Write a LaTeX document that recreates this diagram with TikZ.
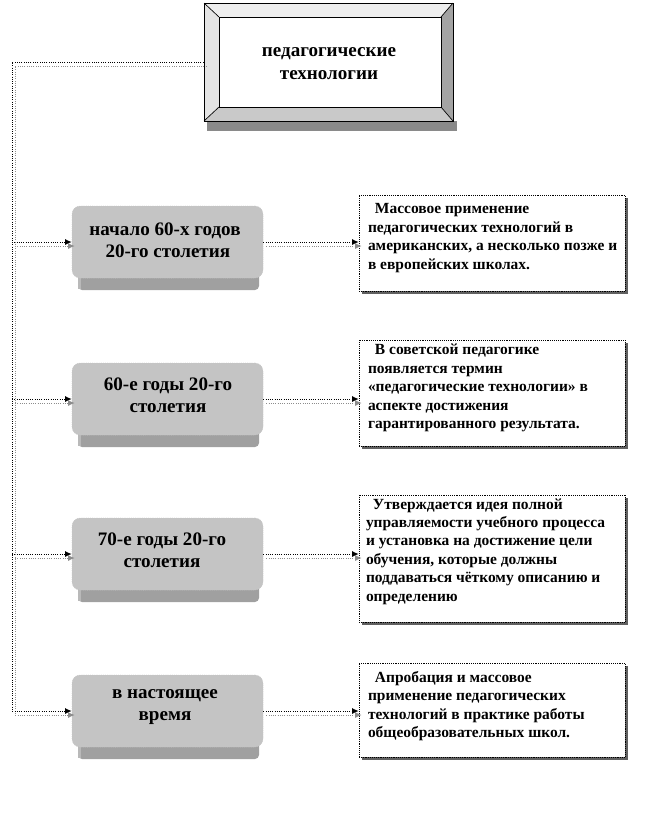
\documentclass[tikz,border=0pt]{standalone}
\usepackage{fontspec}
\setmainfont{Liberation Serif}
\usetikzlibrary{arrows.meta,shadows,calc}
\definecolor{facegray}{HTML}{C4C4C4}
\definecolor{basegray}{HTML}{A0A0A0}
\definecolor{lnshadow}{HTML}{8C8C8C}
\definecolor{bevlight}{HTML}{EEEEEE}
\definecolor{bevleft}{HTML}{E4E4E4}
\definecolor{bevright}{HTML}{A3A3A3}
\definecolor{bevbottom}{HTML}{C9C9C9}
\definecolor{topshadow}{HTML}{8A8A8A}
\begin{document}
\begin{tikzpicture}[x=0.75pt,y=-0.75pt,
  conn/.style={densely dotted, line width=0.7pt, black, -{Latex[length=5pt,width=4.5pt]}},
  connsh/.style={densely dotted, line width=0.7pt, lnshadow, -{Latex[length=5pt,width=4.5pt]}, transform canvas={xshift=2.25pt,yshift=-3pt}},
  lbox/.style={rectangle, rounded corners=6pt, fill=facegray, draw=gray!45, densely dotted, minimum width=143.25pt, minimum height=54pt},
  ltext/.style={align=center, font=\bfseries\fontsize{14.3}{16.5}\selectfont, inner sep=0pt},
  tbox/.style={rectangle, draw=black, densely dotted, fill=white, minimum width=199.5pt,
    drop shadow={shadow xshift=2.6pt, shadow yshift=-2.6pt, fill=gray!75!black, opacity=1}},
  ttext/.style={align=left, anchor=west, font=\bfseries\fontsize{11.6}{13.8}\selectfont, inner sep=0pt},
  ttitle/.style={align=center, font=\bfseries\fontsize{14.3}{17.2}\selectfont, inner sep=0pt}
]
\useasboundingbox (0,0) rectangle (660,819);

% ---- top bevelled box ----
\fill[topshadow] (207,121) rectangle (457,131);
\fill[bevlight] (204,3) -- (453,3) -- (441,17) -- (219,17) -- cycle;
\fill[bevleft] (204,3) -- (219,17) -- (219,107) -- (204,121) -- cycle;
\fill[bevright] (453,3) -- (453,121) -- (441,107) -- (441,17) -- cycle;
\fill[bevbottom] (204,121) -- (219,107) -- (441,107) -- (453,121) -- cycle;
\draw[line width=0.5pt] (204,3) -- (219,17) (453,3) -- (441,17) (204,121) -- (219,107) (453,121) -- (441,107);
\draw[line width=0.6pt, fill=white] (219,17) rectangle (441,107);
\node[draw=black, line width=0.5pt, minimum width=186.75pt, minimum height=88.5pt] (top) at (328.5,62) {};
\node[ttitle] (toptext) at (329,64) {педагогические\\технологии};

% ---- left boxes (extrusions first) ----
\foreach \cy in {242,399,554,711}{
  \fill[basegray, rounded corners=3pt] (78,\cy) rectangle (259,\cy+48);
  \fill[gray!55] (78,\cy+36) rectangle (81,\cy+47);
}
\node[lbox] (b1) at (167.5,242) {};
\node[lbox] (b2) at (167.5,399) {};
\node[lbox] (b3) at (167.5,554) {};
\node[lbox] (b4) at (167.5,711) {};
\node[ltext] (b1t) at (165,240) {начало 60-х годов\\\hspace*{0.3em}20-го столетия};
\node[ltext] (b2t) at (168,395) {60-е годы 20-го\\столетия};
\node[ltext] (b3t) at (162,550) {70-е годы 20-го\\столетия};
\node[ltext] (b4t) at (165,707) {в настоящее\\время};

% ---- text boxes ----
\node[tbox, minimum height=72pt] (t1) at (492,243) {};
\node[tbox, minimum height=79.5pt] (t2) at (492,393) {};
\node[tbox, minimum height=95.25pt] (t3) at (492,558.5) {};
\node[tbox, minimum height=70.5pt] (t4) at (492,710) {};

\node[ttext] (t1t) at ([shift={(9,-5)}]t1.west) {\hspace*{0.45em}Массовое применение\\педагогических\ технологий в\\американских,\ а несколько позже и\\в европейских школах.};
\node[ttext] (t2t) at ([shift={(9,-5)}]t2.west) {\hspace*{0.45em}В советской педагогике\\появляется термин\\«педагогические\ технологии» в\\аспекте достижения\\гарантированного результата.};
\node[ttext] (t3t) at ([shift={(7,-7)}]t3.west) {\hspace*{0.45em}Утверждается идея полной\\управляемости учебного процесса\\и установка на достижение цели\\обучения, которые должны\\поддаваться чёткому\ описанию и\\определению};
\node[ttext] (t4t) at ([shift={(9,-4)}]t4.west) {\hspace*{0.45em}Апробация и массовое\\применение педагогических\\технологий в практике работы\\общеобразовательных\ школ.};

% ---- connectors ----
\coordinate (trunk) at (12,0);
\draw[connsh] (top.west) -| (b4.west -| trunk) -- (b4.west);
\draw[conn] (top.west) -| (b4.west -| trunk) -- (b4.west);
\foreach \b in {b1,b2,b3}{
  \draw[connsh] (\b.west -| trunk) -- (\b.west);
  \draw[conn] (\b.west -| trunk) -- (\b.west);
}
\foreach \b/\t in {b1/t1,b2/t2,b3/t3,b4/t4}{
  \draw[connsh] (\b.east) -- (\b.east -| \t.west);
  \draw[conn] (\b.east) -- (\b.east -| \t.west);
}
\end{tikzpicture}
\end{document}
